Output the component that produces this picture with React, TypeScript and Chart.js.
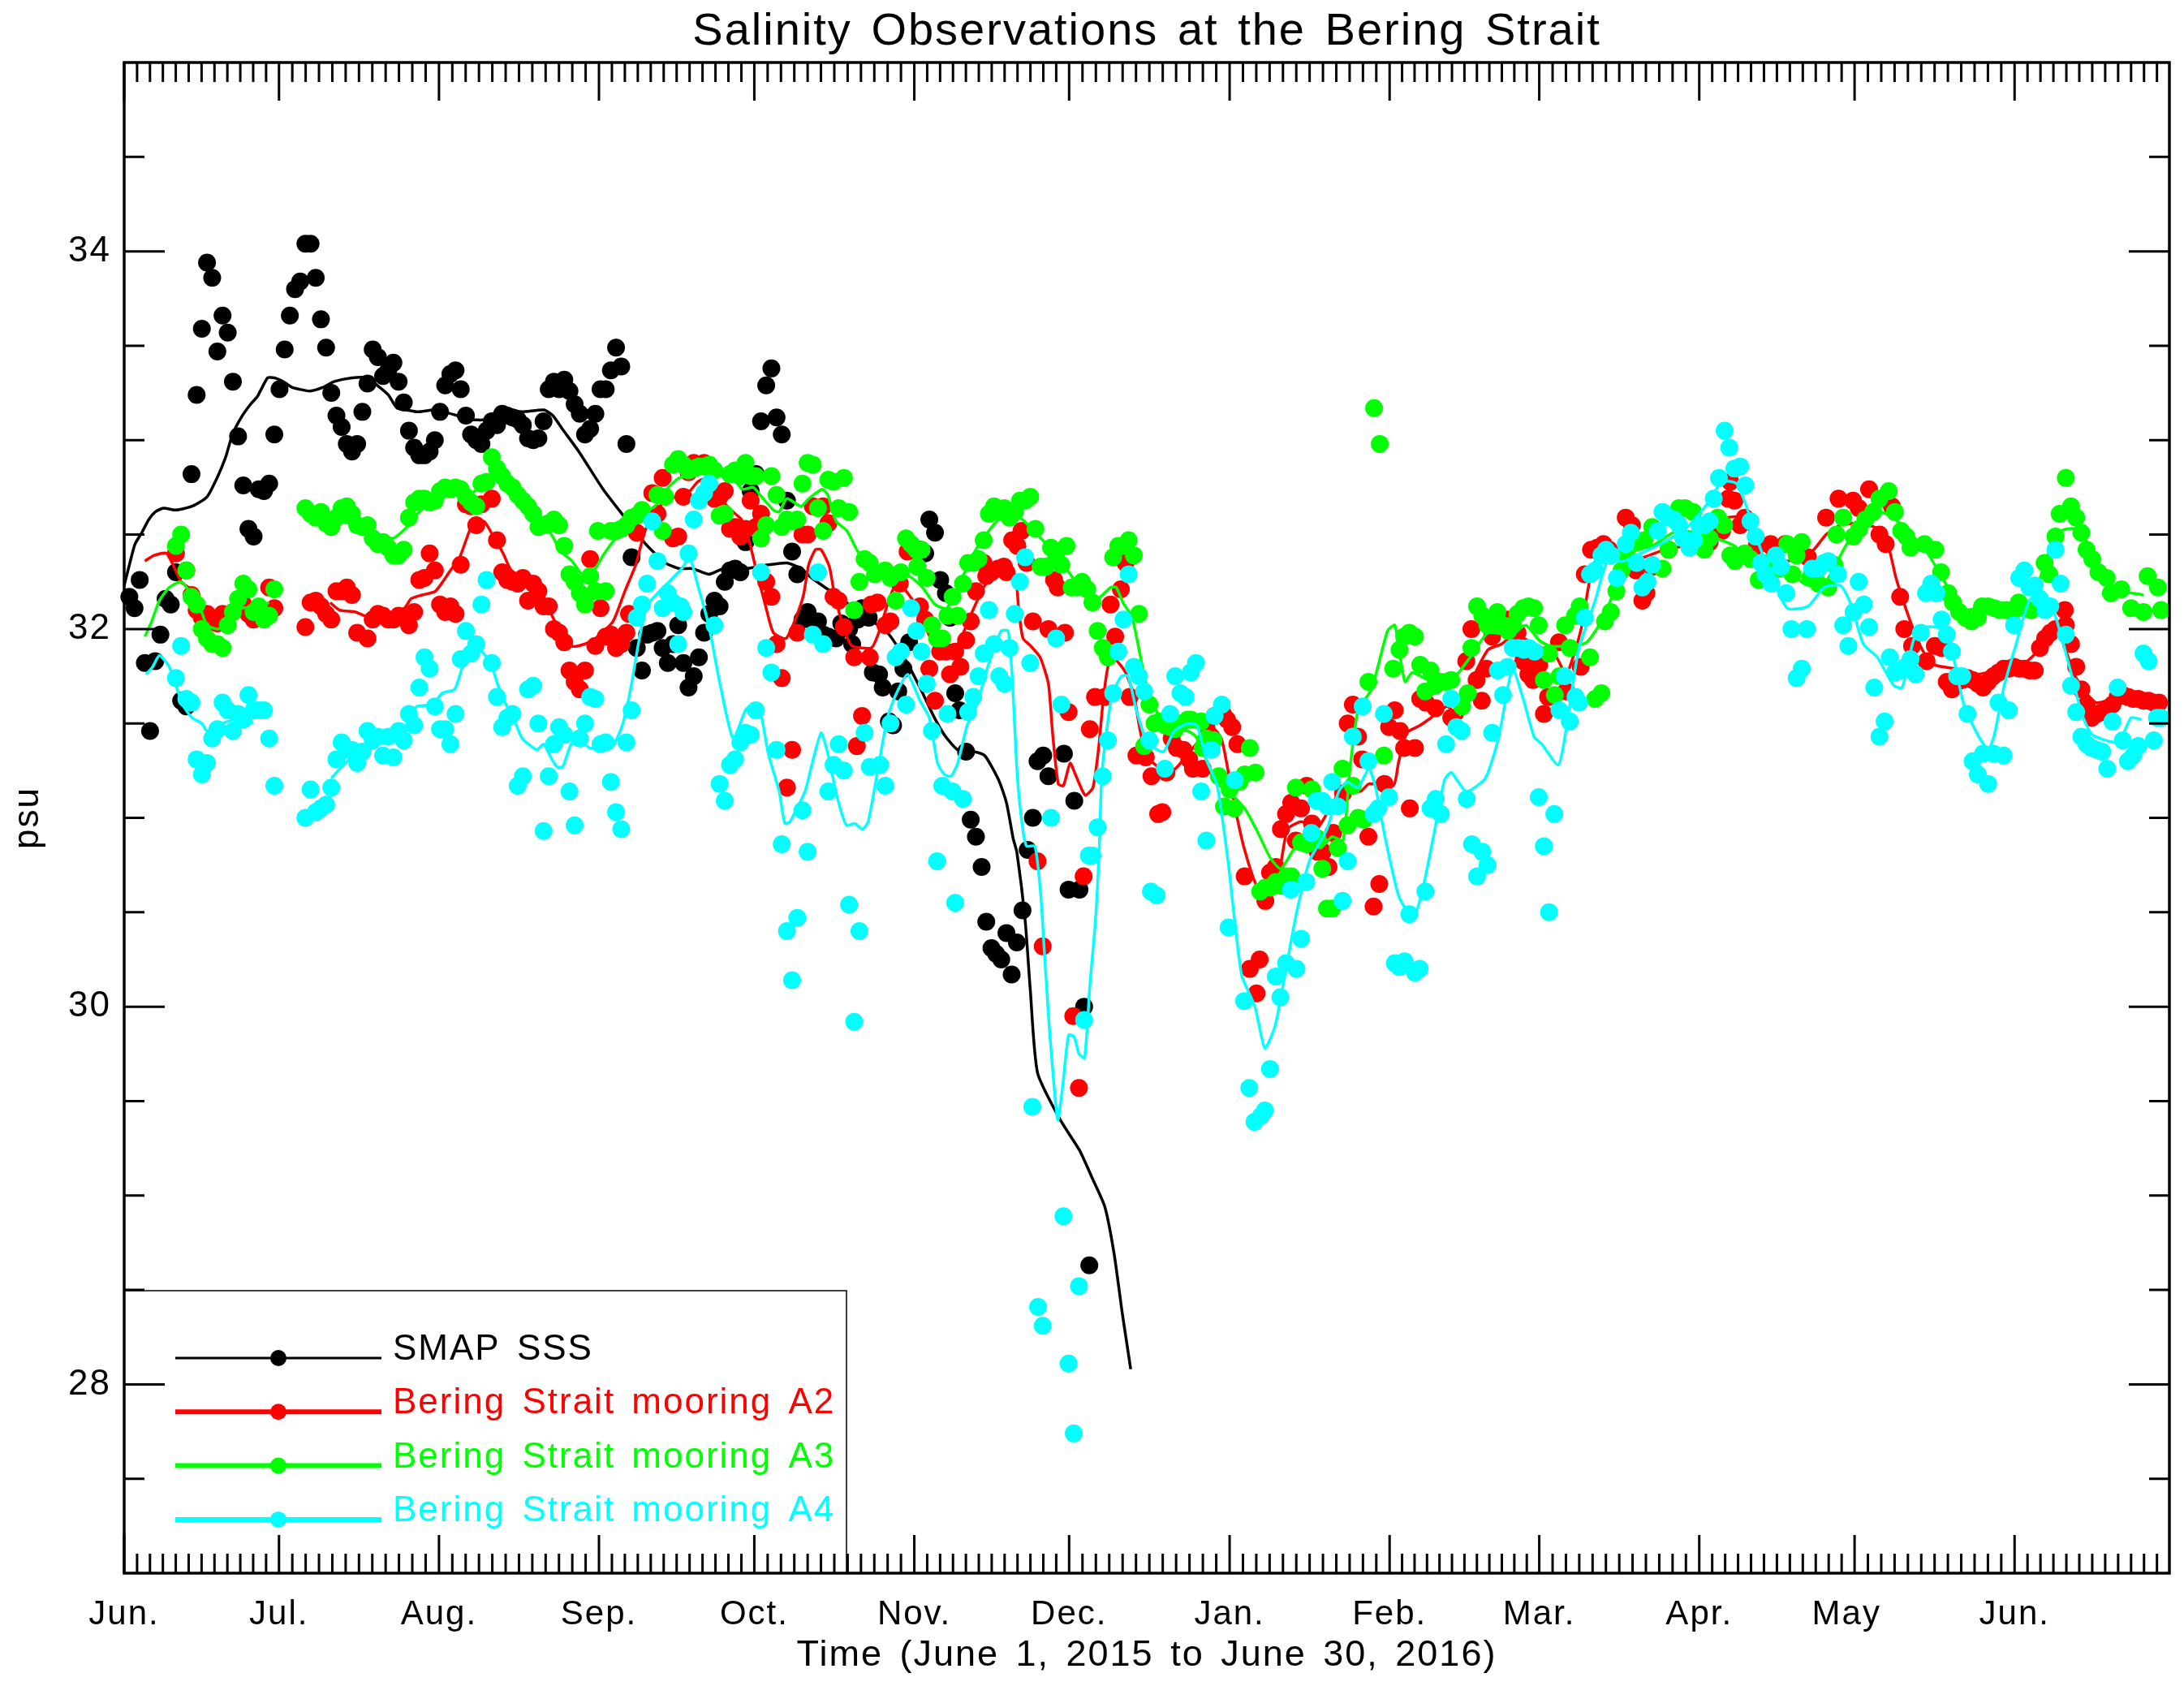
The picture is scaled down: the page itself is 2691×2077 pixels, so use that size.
import { useEffect, useRef } from "react"
import { Chart, registerables } from "chart.js"

Chart.register(...registerables)

const FONT = "Liberation Sans"

// x axis is in days, 0 = June 1 2015 at the left frame
const xMin = 0
const xMax = 395
const yMin = 27
const yMax = 35
const monthTicks = [0, 29.9, 60.8, 91.7, 121.7, 152.6, 182.5, 213.5, 244.4, 273.3, 304.2, 334.2, 365.1]
const monthLabels = ["Jun.", "Jul.", "Aug.", "Sep.", "Oct.", "Nov.", "Dec.", "Jan.", "Feb.", "Mar.", "Apr.", "May ", "Jun."]
const yMajorTicks = [28, 30, 32, 34]
const yMinorTicks = [27.5, 28.5, 29, 29.5, 30.5, 31, 31.5, 32.5, 33, 33.5, 34.5]

const legendLabels = ["SMAP SSS", "Bering Strait mooring A2", "Bering Strait mooring A3", "Bering Strait mooring A4"]
const seriesColors = ["#000000", "#ff0000", "#00ff00", "#00ffff"]

// daily observations [day, psu]
const smapDots = [
  [1,32.17],[2,32.11],[3,32.26],[4,31.82],[5,31.46],[6,31.83],[7,31.97],[8,32.16],[9,32.13],[10,32.30],
  [11,31.62],[12,31.59],[13,32.82],[14,33.24],[15,33.59],[16,33.94],[17,33.86],[18,33.47],[19,33.66],[20,33.57],
  [21,33.31],[22,33.02],[23,32.76],[24,32.53],[25,32.49],[26,32.74],[27,32.73],[28,32.77],[29,33.03],[30,33.27],
  [31,33.48],[32,33.66],[33,33.80],[34,33.84],[35,34.04],[36,34.04],[37,33.86],[38,33.64],[39,33.49],[40,33.25],
  [41,33.13],[42,33.07],[43,32.98],[44,32.94],[45,32.98],[46,33.15],[47,33.30],[48,33.48],[49,33.44],[50,33.34],
  [51,33.37],[52,33.41],[53,33.31],[54,33.20],[55,33.05],[56,32.96],[57,32.92],[58,32.92],[59,32.94],[60,33.00],
  [61,33.15],[62,33.29],[63,33.35],[64,33.37],[65,33.27],[66,33.13],[67,33.03],[68,33.00],[69,32.98],[70,33.05],
  [71,33.10],[72,33.08],[73,33.14],[74,33.13],[75,33.12],[76,33.11],[77,33.08],[78,33.01],[79,33.00],[80,33.01],
  [81,33.10],[82,33.27],[83,33.31],[84,33.27],[85,33.32],[86,33.26],[87,33.19],[88,33.14],[89,33.03],[90,33.06],
  [91,33.14],[92,33.27],[93,33.27],[94,33.37],[95,33.49],[96,33.39],[97,32.98],[98,32.38],[99,31.90],[100,31.78],
  [101,31.97],[102,31.98],[103,31.99],[104,31.90],[105,31.82],[106,31.92],[107,32.02],[108,31.82],[109,31.69],[110,31.75],
  [111,31.85],[112,31.98],[113,32.08],[114,32.15],[115,32.12],[116,32.25],[117,32.31],[118,32.32],[119,32.30],[120,32.46],
  [121,32.73],[122,32.82],[123,33.10],[124,33.29],[125,33.38],[126,33.12],[127,33.03],[128,32.68],[129,32.41],[130,32.29],
  [131,32.05],[132,32.09],[133,32.04],[134,32.04],[135,31.97],[136,31.96],[137.5,31.95],[138.5,32.03],[140,32.00],[140.6,31.92],
  [141.7,32.05],[142.5,32.11],[143.8,32.06],[144.6,31.77],[145.8,31.76],[146.5,31.69],[147.7,31.51],[148.5,31.49],[149.5,31.67],[150.5,31.79],
  [151.6,31.93],[153.7,32.42],[154.7,32.40],[155.5,32.58],[156.6,32.51],[157.6,32.26],[158.7,32.19],[159.5,32.06],[160.5,31.66],[161.3,31.57],
  [162.6,31.35],[163.5,30.99],[164.5,30.90],[165.6,30.74],[166.5,30.45],[167.5,30.31],[168.4,30.28],[169.4,30.25],[170.4,30.39],[171.4,30.17],
  [172.4,30.34],[173.5,30.51],[174.5,30.83],[175.5,31.00],[176.4,31.30],[177.5,31.33],[178.5,31.22],[181.5,31.34],[182.4,30.62],[183.5,31.09],
  [184.5,30.62],[185.4,30.00],[186.4,28.63],
]

const a2Dots = [
  [10,32.40],[12,32.31],[13,32.18],[14,32.10],[15,32.06],[16,32.08],[17,32.05],[18,32.03],[19,32.08],[20,32.07],
  [21,32.09],[22,32.11],[23,32.13],[24,32.08],[25,32.05],[26,32.08],[27,32.07],[28,32.22],[29,32.11],[35,32.01],
  [36,32.14],[37,32.15],[38,32.12],[39,32.08],[40,32.05],[41,32.20],[42,32.20],[43,32.22],[44,32.18],[45,31.98],
  [47,31.95],[48,32.05],[49,32.08],[50,32.07],[51,32.05],[52,32.05],[53,32.07],[54,32.06],[55,32.02],[56,32.09],
  [57,32.26],[58,32.27],[59,32.40],[60,32.31],[61,32.13],[62,32.09],[63,32.12],[64,32.08],[65,32.34],[66,32.66],
  [67,32.65],[68,32.55],[69,32.66],[71,32.69],[72,32.47],[73,32.30],[74,32.26],[75,32.25],[76,32.24],[77,32.27],
  [78,32.15],[79,32.24],[80,32.20],[81,32.12],[82,32.12],[83,32.00],[84,31.98],[85,31.93],[86,31.78],[87,31.72],
  [88,31.68],[89,31.78],[90,32.37],[91,31.91],[92,32.11],[93,31.96],[94,31.97],[95,31.90],[96,31.92],[97,31.98],
  [97.5,32.08],[99,32.51],[102,32.72],[103,32.61],[104,32.80],[106,32.48],[107,32.49],[108,32.70],[109,32.83],[110,32.88],
  [112,32.88],[114,32.69],[115,32.70],[116,32.73],[117,32.53],[118,32.54],[119,32.49],[120,32.53],[121,32.68],[122,32.54],
  [123,32.61],[124,32.25],[125,32.17],[126,31.92],[127,31.74],[128,31.16],[129,31.36],[130,31.98],[131,32.50],[132,32.50],
  [133,32.65],[135,32.65],[136,32.56],[137,32.17],[138,32.15],[139,32.01],[141,31.85],[141.5,31.38],[142.5,31.54],[144,31.85],
  [144.3,32.13],[145.5,32.14],[147,32.02],[148,32.04],[149.8,32.24],[151.3,32.41],[153.7,32.12],[154.7,32.05],[155.5,31.79],[156.6,31.62],
  [157.6,31.88],[158.7,31.88],[159.5,31.76],[160.5,31.88],[161.5,31.80],[162.6,31.94],[163.5,32.04],[164.5,32.20],[166,32.35],[166.5,32.28],
  [167.5,32.30],[168.8,32.32],[169.9,32.33],[170.4,32.30],[171.5,32.47],[172.5,32.44],[173.3,32.52],[174.3,32.35],[175.5,32.04],[176.4,30.77],
  [177.4,30.32],[178.5,32.00],[179.6,32.26],[180.3,32.22],[181.7,31.98],[182.4,31.56],[183.3,29.95],[184.4,29.57],[185.3,30.69],[186.5,31.47],
  [187.5,31.64],[189.4,31.64],[190.5,32.13],[191.4,31.96],[192.5,32.21],[193.4,32.35],[194.2,31.64],[195.5,31.33],[197.3,31.32],[198.4,31.22],
  [199.7,31.02],[200.5,31.03],[201.3,31.24],[202.3,31.42],[203.3,31.37],[204.6,31.36],[205.7,31.31],[206.4,31.26],[208.3,31.26],[209,31.48],
  [210.6,31.54],[212.2,31.55],[213,31.52],[214,31.48],[215,31.39],[216.4,30.69],[217.4,30.20],[218.7,30.07],[219.3,30.25],[220.4,30.56],
  [221.3,30.71],[222.4,30.74],[223.4,30.94],[224.4,31.02],[225.4,31.08],[226.3,30.88],[227.3,31.05],[228.4,31.17],[229.4,30.97],[230.5,30.82],
  [231.5,30.82],[232.6,30.74],[233.5,30.92],[235.4,31.13],[236.3,31.50],[237.3,31.60],[238.3,31.43],[239.1,31.31],[240.3,30.90],[241.3,30.53],
  [242.4,30.65],[243.4,31.18],[244.3,31.48],[245.4,31.57],[246.4,31.46],[247.2,31.37],[248.3,31.05],[249.3,31.37],[250.3,31.63],[251.4,31.61],
  [253.3,31.58],[256.3,31.53],[259.2,31.83],[260.2,32.00],[261.2,31.73],[262.2,31.62],[263.1,31.79],[264.2,31.96],[267.2,32.05],[269.1,31.98],
  [270.2,31.83],[271.2,31.76],[272.1,31.73],[273.3,31.81],[274.2,31.55],[275,31.64],[277.1,31.93],[278.5,31.67],[281.3,31.80],[282.1,32.29],
  [283.3,32.42],[284.5,32.43],[285.7,32.45],[286.8,32.42],[290,32.59],[291.2,32.55],[292,32.31],[293.2,32.15],[294,32.19],[295.1,32.33],
  [298.3,32.42],[306.2,32.46],[308.6,32.52],[309.8,32.69],[310.2,32.78],[311,32.68],[312.1,32.55],[313,32.59],[315.3,32.44],[318,32.45],
  [320.8,32.45],[325.2,32.38],[328.7,32.59],[331.1,32.69],[333.9,32.68],[335,32.64],[337,32.74],[339,32.50],[340.2,32.45],[341.4,32.65],
  [343,32.17],[343.8,32.00],[345.3,31.91],[348.1,31.83],[349.7,31.91],[351,31.90],[352,31.72],[353,31.68],[354,31.72],[355,31.73],
  [356,31.74],[357,31.73],[358,31.71],[359,31.69],[360,31.72],[361,31.75],[362,31.77],[363,31.79],[364,31.79],[365,31.80],
  [366,31.79],[367,31.79],[368,31.78],[369,31.78],[370,31.90],[371,31.95],[372,31.98],[373,32.00],[374.8,32.10],[375,32.02],
  [376,31.92],[377,31.80],[378,31.68],[379,31.60],[380,31.53],[381,31.55],[382,31.56],[383,31.58],[384,31.60],[385,31.64],
  [386,31.65],[387,31.64],[388,31.63],[389,31.63],[390,31.62],[391,31.62],[392,31.61],[393,31.61],
]

const a3Dots = [
  [10,32.44],[11,32.50],[12,32.31],[13,32.17],[14,32.13],[15,32.00],[16,31.95],[17,31.92],[18,31.92],[19,31.90],
  [20,32.02],[21,32.09],[22,32.16],[23,32.24],[24,32.21],[25,32.09],[26,32.12],[27,32.05],[28,32.07],[29,32.21],
  [35,32.64],[36,32.61],[37,32.59],[38,32.62],[39,32.56],[40,32.54],[41,32.59],[42,32.64],[43,32.65],[44,32.61],
  [45,32.55],[46,32.54],[47,32.55],[48,32.48],[49,32.45],[50,32.46],[51,32.43],[52,32.39],[53,32.39],[54,32.42],
  [55,32.59],[56,32.67],[57,32.69],[58,32.69],[59,32.67],[60,32.68],[61,32.73],[62,32.75],[63,32.74],[64,32.75],
  [65,32.74],[66,32.70],[67,32.67],[68,32.65],[69,32.77],[70,32.78],[71,32.91],[72,32.85],[73,32.81],[74,32.77],
  [75,32.75],[76,32.71],[77,32.68],[78,32.65],[79,32.61],[80,32.54],[81,32.55],[82,32.56],[83,32.58],[84,32.55],
  [85,32.44],[86,32.29],[87,32.25],[88,32.19],[89,32.13],[90,32.28],[91,32.20],[91.5,32.52],[93,32.20],[94,32.52],
  [95,32.52],[96,32.53],[97,32.55],[98,32.59],[99,32.60],[100,32.63],[103,32.71],[104,32.52],[104.5,32.70],[106,32.87],
  [107,32.90],[108,32.87],[109,32.84],[110,32.85],[111,32.86],[112,32.86],[113,32.87],[114,32.84],[115,32.60],[116,32.61],
  [117,32.82],[118,32.84],[119,32.81],[120,32.88],[121,32.81],[122,32.81],[123,32.48],[124,32.55],[125,32.81],[126,32.71],
  [127,32.54],[128,32.58],[129,32.57],[130,32.58],[131,32.77],[132,32.88],[133,32.87],[134,32.64],[135,32.52],[136,32.79],
  [137,32.78],[138,32.64],[139,32.80],[140,32.62],[141,32.10],[142,32.25],[143,32.37],[144,32.35],[145,32.29],[147,32.31],
  [148,32.27],[149,32.15],[150,32.30],[151,32.48],[152,32.45],[153,32.42],[153.2,32.33],[154,32.42],[155,32.27],[156,32.02],
  [157,31.95],[158,31.95],[159,32.07],[160,32.17],[161,32.07],[162,32.24],[163,32.35],[164,32.35],[165,32.37],[166,32.47],
  [167,32.61],[168,32.65],[169,32.62],[170,32.64],[171,32.59],[172,32.62],[173,32.68],[174,32.68],[175,32.70],[176,32.53],
  [177,32.33],[178,32.33],[179,32.43],[180,32.38],[181,32.34],[182,32.44],[183,32.22],[184,32.22],[185,32.25],[186,32.21],
  [187,32.14],[188,31.99],[189,31.90],[190,31.85],[191,32.38],[192,32.44],[193,32.44],[194,32.47],[195,32.39],[196,32.08],
  [197,31.38],[198,31.60],[199,31.50],[200,31.51],[201,31.49],[202,31.48],[203,31.47],[204,31.50],[205.4,31.52],[206,31.52],
  [208,31.51],[208.3,31.37],[209,31.42],[210.4,31.41],[211.4,31.22],[212.4,31.06],[213.5,31.15],[214.4,31.05],[215.4,31.19],[216.4,31.23],
  [217.4,31.37],[218.5,31.24],[219.4,30.61],[220.4,30.63],[221.3,30.63],[222.4,30.66],[223.4,30.64],[224.5,30.69],[225.4,30.69],[226.3,31.16],
  [227.3,30.87],[228.4,30.86],[229.4,31.15],[230.5,30.89],[231.4,30.73],[232.3,30.52],[233.3,30.52],[234.4,30.84],[235.3,31.26],[236.3,30.96],
  [237.3,31.17],[238.3,31.00],[239.4,30.99],[240.3,31.72],[241.4,33.17],[242.5,32.98],[243.3,31.33],[245.1,31.79],[246.3,31.89],[247.2,31.96],
  [248.2,31.98],[249.3,31.96],[250.3,31.81],[251.3,31.67],[252.3,31.78],[253.2,31.70],[254.2,31.72],[255.3,31.72],[256.3,31.73],[258.4,31.59],
  [259.5,31.66],[260.2,31.90],[261.3,32.12],[262.3,32.07],[263.3,32.02],[264.2,32.02],[265.2,32.09],[266.3,32.02],[267.3,31.99],[268.2,32.02],
  [269.1,32.08],[270.2,32.11],[271.2,32.12],[272.3,32.11],[273.2,32.02],[274.2,31.73],[275.2,31.87],[276.3,31.65],[277.2,31.75],[278.3,32.02],
  [279.2,31.90],[280.2,32.07],[281.1,32.12],[283.1,31.85],[284.1,31.63],[285.3,31.66],[286,32.04],[287.1,32.09],[288.2,32.20],[289.2,32.31],
  [290,32.39],[292.4,32.46],[293.6,32.47],[295.1,32.54],[297.1,32.32],[298.3,32.42],[300.3,32.64],[301.5,32.64],[303,32.62],[305.2,32.42],
  [306.2,32.48],[307.8,32.59],[309,32.55],[310.2,32.39],[311.1,32.36],[313,32.40],[314.1,32.37],[315.7,32.26],[317.3,32.35],[319.6,32.32],
  [321.2,32.45],[322.2,32.29],[323,32.39],[324,32.46],[325.6,32.27],[327.2,32.24],[329.1,32.22],[330.3,32.34],[330.7,32.50],[332,32.59],
  [334,32.49],[335.1,32.53],[336.3,32.58],[337.8,32.62],[339,32.69],[340.8,32.73],[342,32.62],[343.2,32.52],[344.2,32.49],[345,32.43],
  [347.7,32.45],[349.8,32.42],[350.9,32.30],[352.3,32.19],[353.2,32.14],[354.4,32.09],[355.6,32.06],[356.8,32.04],[358,32.06],[358.8,32.12],
  [360,32.12],[361.2,32.11],[362.3,32.10],[363.5,32.10],[364.7,32.09],[365.9,32.14],[367.1,32.11],[368.3,32.10],[370.9,32.35],[371.8,32.29],
  [373,32.49],[373.8,32.61],[375,32.80],[376,32.65],[377,32.59],[378,32.51],[379,32.42],[380.1,32.37],[381.3,32.30],[382.9,32.27],
  [383.7,32.19],[385.7,32.21],[387.6,32.11],[390,32.09],[390.8,32.28],[392.8,32.22],[393.4,32.10],
]

const a4Dots = [
  [10,31.74],[11,31.91],[12,31.63],[13,31.61],[14,31.31],[15,31.23],[16,31.29],[17,31.42],[18,31.47],[19,31.61],
  [20,31.57],[21,31.46],[22,31.55],[23,31.52],[24,31.65],[25,31.57],[26,31.57],[27,31.57],[28,31.42],[29,31.17],
  [35,31.00],[36,31.15],[37,31.03],[38,31.05],[39,31.07],[40,31.16],[41,31.31],[42,31.40],[43,31.36],[44,31.36],
  [45,31.29],[46,31.35],[47,31.46],[48,31.41],[49,31.43],[50,31.33],[51,31.43],[52,31.32],[53,31.46],[54,31.41],
  [55,31.55],[56,31.49],[57,31.69],[58,31.85],[59,31.79],[60,31.59],[61,31.47],[62,31.47],[63,31.39],[64,31.55],
  [65,31.84],[66,31.99],[67,31.87],[68,31.92],[69,32.13],[70,32.26],[71,31.82],[72,31.64],[73,31.48],[74,31.53],
  [75,31.55],[76,31.17],[77,31.22],[78,31.68],[79,31.70],[80,31.50],[81,30.93],[82,31.22],[83,31.39],[84,31.48],
  [85,31.44],[86,31.14],[87,30.96],[88,31.42],[89,31.50],[90,31.64],[91,31.63],[92,31.39],[93,31.40],[94,31.19],
  [95,31.03],[96,30.94],[97,31.40],[98,31.57],[99,32.06],[100,32.13],[101,32.24],[102,32.57],[103,32.36],[104,32.11],
  [105,32.19],[106,32.14],[107,31.92],[107.5,32.12],[108,32.09],[109,32.40],[110,32.58],[111,32.68],[112,32.72],[113,32.77],
  [114,32.02],[115,31.18],[116,31.09],[117,31.28],[118,31.31],[119,31.40],[120,31.45],[121,31.44],[122,31.57],[123,32.30],
  [124,31.90],[125,31.77],[126,31.36],[127,30.86],[128,30.40],[129,30.14],[130,30.47],[131,31.04],[132,30.82],[133,31.97],
  [134,32.30],[135,31.92],[136,31.14],[137,31.28],[138,31.39],[139,31.25],[140,30.54],[141,29.92],[142,30.40],[143,31.45],
  [144,31.27],[146,31.28],[147,31.17],[148,31.50],[149,31.85],[150,31.88],[151,31.60],[152,32.11],[153,31.99],[154,31.88],
  [155,31.71],[156,31.46],[157,30.77],[158,31.17],[159,31.55],[160,31.14],[160.5,30.55],[162,31.10],[163,31.56],[164,31.64],
  [165,31.75],[166,31.87],[167,32.10],[168,31.92],[169,31.75],[170,31.71],[171,31.90],[172,32.08],[173,32.25],[174,32.38],
  [175,31.82],[175.4,29.47],[176.5,28.41],[177.4,28.31],[179,31.00],[180,31.95],[181,31.60],[181.4,28.89],[182.4,28.11],[183.4,27.74],
  [184.4,28.52],[185.4,29.93],[186.3,30.80],[187,30.80],[188,30.95],[189,31.22],[190,31.41],[191,31.66],[192,31.88],[193,32.05],
  [194,32.29],[195,31.80],[196,31.75],[197,31.67],[198,31.41],[198.3,30.61],[199.4,30.59],[201,31.26],[202,31.55],[203,31.75],
  [204,31.66],[205,31.64],[206,31.77],[207,31.82],[208,31.14],[209,30.88],[210,31.36],[210.6,31.54],[212,31.60],[213.3,30.42],
  [214.5,31.20],[216.3,30.03],[217.3,29.57],[218.3,29.39],[219.5,29.42],[220.3,29.45],[221.3,29.67],[222.4,30.16],[223.3,30.05],[224.4,30.23],
  [225.3,30.62],[226.4,30.20],[227.3,30.36],[228.3,30.66],[229.3,30.92],[230.3,31.09],[231.4,31.09],[232.4,31.06],[233.3,31.19],[234.4,31.06],
  [235.3,30.56],[236.3,30.77],[237.3,31.43],[239.2,31.59],[240.3,31.30],[241.3,31.02],[242.2,31.05],[243.3,31.55],[244.3,31.11],[245.4,30.23],
  [246.3,30.21],[247.3,30.24],[248.2,30.49],[249.3,30.18],[250.2,30.20],[251.3,30.61],[252.3,31.05],[253.3,31.10],[254.3,31.02],[255.3,31.39],
  [256.3,31.63],[257.3,31.48],[258.3,31.46],[259.3,31.10],[260.3,30.86],[261.3,30.69],[262.3,30.82],[263.3,30.75],[264.2,31.45],[265.3,31.78],
  [266.3,31.65],[267.2,31.80],[268.2,31.90],[269.3,31.90],[270.3,31.89],[271.3,31.90],[272.4,31.88],[273.2,31.11],[274.2,30.85],[275.2,30.50],
  [276.2,31.02],[277.2,31.57],[278.2,31.75],[279.2,31.51],[280.3,31.64],[281,31.61],[282.1,32.06],[283.1,32.29],[284.1,32.31],[285.3,32.39],
  [286.2,32.42],[287.2,32.39],[288.3,32.27],[290,32.45],[291,32.51],[292.1,32.35],[293.2,32.22],[294.2,32.25],[295.1,32.34],[296.2,32.52],
  [297.1,32.62],[298.3,32.59],[299.3,32.58],[300.3,32.55],[301.1,32.48],[302.3,32.43],[303.2,32.47],[304.2,32.55],[305.2,32.55],[306.2,32.57],
  [307,32.69],[308,32.80],[309.1,33.05],[310,32.96],[311,32.85],[312.1,32.86],[313.1,32.76],[314.1,32.57],[315.1,32.49],[316.1,32.35],
  [317,32.29],[318.1,32.24],[319,32.39],[320,32.33],[321,32.19],[322,32.00],[323,31.74],[324,31.79],[325,32.00],[326,32.32],
  [327.2,32.32],[328.3,32.35],[329.1,32.36],[331,32.29],[332,32.02],[333,31.91],[334,32.09],[335,32.25],[336,32.13],[337,32.01],
  [338,31.69],[339,31.43],[340,31.51],[341,31.85],[342,31.77],[343,31.78],[344,31.80],[345,31.84],[346,31.76],[347,31.98],
  [348,32.19],[349,32.24],[350,32.19],[351,32.05],[352,31.97],[353,31.88],[354,31.75],[355,31.75],[356,31.55],[357,31.30],
  [358,31.23],[359,31.34],[360,31.18],[361,31.34],[362,31.61],[363,31.33],[364,31.57],[365,32.02],[366,32.27],[367,32.31],
  [368,32.22],[369,32.23],[370,32.16],[371,32.10],[372,32.12],[373,32.42],[374,32.24],[375,31.97],[376,31.70],[377,31.56],
  [378,31.43],[379,31.39],[380,31.37],[381,31.36],[382,31.35],[383,31.26],[384,31.51],[385,31.69],[386,31.41],[387,31.30],
  [388,31.33],[389,31.38],[390,31.87],[391,31.83],[392,31.41],[392.6,31.53],[393.4,31.53],
]

// smoothed curves, a null row breaks the line
const smapLine = [
  [0,32.23],[1.1,32.35],[2.1,32.45],[3.4,32.51],[4.75,32.58],[6,32.62],[7.6,32.64],[10,32.63],[13.1,32.65],[16,32.70],
  [18.1,32.81],[19.6,32.91],[20.9,33.03],[22.6,33.12],[24.4,33.19],[25.7,33.23],[27.7,33.33],[29,33.33],[30.7,33.31],[32.4,33.28],
  [33.8,33.27],[35.9,33.26],[38.4,33.28],[40.5,33.31],[44,33.33],[46.8,33.33],[48.9,33.29],[51,33.24],[52.7,33.17],[54.5,33.16],
  [56.7,33.15],[59.7,33.16],[61.8,33.15],[64.3,33.13],[66.7,33.11],[69.9,33.11],[72.7,33.17],[74.8,33.16],[76.9,33.15],[81.1,33.16],
  [82.8,33.13],[84.6,33.06],[87.8,32.94],[92.5,32.74],[96.7,32.59],[100.4,32.46],[102.5,32.40],[104.5,32.35],[107.2,32.32],[109.8,32.32],
  [112.9,32.29],[116.6,32.33],[120.2,32.32],[124.4,32.34],[128,32.35],[130.7,32.32],[132.8,32.27],[135.9,32.21],[147.4,31.98],[150.6,31.85],
  [153.7,31.69],[156.3,31.54],[158.4,31.44],[161,31.36],[164.1,31.35],[166.2,31.33],[168.9,31.20],[170.4,31.08],[171.7,30.89],[172.4,30.82],
  [174,30.46],[175,30.09],[176.4,29.65],[180.8,29.40],[184.5,29.24],[187,29.09],[189.4,28.94],[191.2,28.69],[192.8,28.37],[194.4,28.08],
]

const a2Line = [
  [4,32.36],[5.8,32.39],[8.2,32.40],[11,32.25],[12.85,32.21],[14.2,32.14],[15.5,32.08],[16.8,32.00],[18.1,32.00],[19.6,32.02],
  [22.5,32.11],[25,32.09],[27.2,32.11],[29,32.12],[34,null],[39.8,32.14],[41.6,32.10],[44.7,32.09],[46.5,32.07],[50,32.07],
  [54.1,32.11],[55.4,32.16],[57.5,32.18],[60.1,32.20],[63,32.31],[64.8,32.38],[66.7,32.52],[67.7,32.56],[69.5,32.57],[71.1,32.50],
  [73.2,32.40],[74.8,32.31],[80,32.22],[83,32.05],[86.5,31.91],[88.9,31.92],[91,31.95],[94.4,32.04],[96.7,32.20],[98.8,32.34],
  [100.6,32.52],[102.5,32.61],[104.5,32.68],[106.6,32.70],[109.2,32.73],[110.8,32.78],[112.9,32.80],[115.5,32.68],[117.6,32.62],[119.2,32.58],
  [120.5,32.49],[122,32.32],[123.9,32.12],[125.4,31.98],[127.8,31.95],[129.6,32.05],[131.2,32.18],[132.2,32.34],[133.5,32.42],[134.6,32.42],
  [136.2,32.33],[137.2,32.18],[139.3,31.98],[140.6,31.91],[144.3,31.90],[145.6,31.97],[147.2,32.11],[148.7,32.22],[150.3,32.22],[152.1,32.16],
  [153.7,32.08],[155.8,31.95],[158.4,31.88],[161,31.92],[163.6,32.08],[166.2,32.23],[169.4,32.32],[172,32.29],[172.8,32.09],[173.6,31.95],
  [175.1,31.91],[176.9,31.85],[178.5,31.71],[179.3,31.45],[180.4,31.18],[181.4,31.17],[182.7,31.29],[183.7,31.23],[185.6,31.12],[187.1,31.16],
  [188.2,31.37],[189,31.60],[190,31.80],[191.3,31.84],[193.4,31.77],[195,31.65],[196.3,31.45],[197.8,31.32],[200.7,31.25],[203,31.26],
  [207,31.39],[210,31.48],[211.9,31.42],[213.2,31.25],[214.8,31.02],[216.4,30.83],[219,30.63],[222.6,30.68],[223.4,30.76],[224.7,30.94],
  [227.3,30.98],[230.5,30.95],[231.8,31.00],[234.1,31.11],[235.2,31.14],[238.8,31.14],[240.4,31.18],[245.1,31.17],[246.1,31.29],[247.7,31.45],
  [250.3,31.49],[252.4,31.53],[255.5,31.59],[258.2,31.53],[260.2,31.72],[263.4,31.89],[266,31.92],[268.6,31.97],[272.3,31.92],[276.4,31.86],
  [278.5,31.76],[281.3,31.99],[283.3,32.29],[286,32.46],[290.8,32.36],[297.5,32.42],[303,32.45],[307.8,32.53],[309.8,32.59],[312.5,32.59],
  [314.9,32.47],[318,32.39],[321.2,32.36],[325.6,32.40],[328.7,32.50],[331.5,32.55],[335.5,32.56],[339.4,32.52],[341,32.41],[342.2,32.27],
  [344.2,32.10],[346.1,31.96],[347.7,31.87],[349.7,31.81],[353.6,31.79],[357.6,31.76],[363.1,31.79],[367,31.82],[369.8,31.89],[372.6,32.01],
  [374.2,31.95],[376.6,31.76],[379,31.66],[380.9,31.61],[384.5,31.63],[387.6,31.64],[394.7,31.61],
]

const a3Line = [
  [4,31.96],[5.3,32.04],[6.8,32.15],[8.7,32.22],[11,32.25],[12.85,32.19],[14.7,32.11],[16,32.02],[18.1,32.00],[19.9,32.03],
  [22.5,32.11],[25.1,32.11],[28,32.14],[34,null],[40,32.58],[45,32.55],[51.8,32.48],[55,32.55],[57.3,32.63],[62,32.72],
  [66,32.70],[70,32.78],[73.2,32.85],[76.3,32.72],[80,32.59],[82.3,32.51],[84.4,32.41],[86.5,32.36],[88.4,32.29],[90.7,32.31],
  [92.5,32.39],[94.6,32.47],[96.2,32.51],[99.3,32.60],[102.5,32.65],[105.1,32.75],[107.2,32.80],[109.8,32.82],[113.4,32.84],[116,32.80],
  [118.1,32.78],[119.4,32.74],[121.5,32.75],[123.1,32.70],[125.4,32.63],[126.5,32.62],[128,32.69],[130.7,32.65],[132.2,32.69],[134.8,32.74],
  [135.9,32.71],[137.5,32.57],[139.6,32.52],[141.7,32.41],[144.8,32.31],[148.5,32.29],[151.6,32.28],[154.2,32.22],[156.6,32.13],[158.9,32.11],
  [162,32.28],[164.7,32.43],[168.9,32.58],[172.5,32.60],[176.7,32.49],[179.8,32.40],[183,32.28],[185.6,32.19],[188,32.16],[190.5,32.22],
  [191.6,32.22],[192.9,32.14],[194.7,32.06],[197.6,31.68],[199.7,31.55],[202.3,31.47],[205.4,31.46],[207,31.43],[208.5,31.34],[211.1,31.18],
  [213.2,31.14],[216.4,31.05],[219,30.92],[221.3,30.79],[223.4,30.73],[225.8,30.83],[227.9,30.88],[231,30.84],[233.3,30.90],[235.4,30.88],
  [236.7,31.25],[238.3,31.57],[240.9,31.68],[244,31.99],[245.4,32.02],[246.4,31.86],[247.4,31.72],[248.8,31.77],[253.5,31.71],[257.1,31.75],
  [260.2,31.86],[263.4,31.98],[267.6,31.97],[270.7,32.02],[273.3,31.94],[275.4,31.91],[279.3,31.91],[282.5,31.93],[285.7,32.06],[288.8,32.27],
  [292,32.42],[295.1,32.44],[299.9,32.52],[305.4,32.50],[311,32.44],[315.7,32.33],[320.4,32.35],[324.4,32.24],[328.3,32.24],[332.7,32.45],
  [336.3,32.56],[339.4,32.62],[343.4,32.55],[348.1,32.41],[352,32.23],[355.2,32.10],[359.2,32.12],[364.7,32.10],[367.9,32.10],[369.8,32.25],
  [371.8,32.41],[374.2,32.52],[376.6,32.53],[379.7,32.44],[383.7,32.22],[390,32.18],
]

const a4Line = [
  [4.2,31.76],[5.5,31.80],[6.8,31.86],[8.7,31.80],[10,31.70],[11.5,31.59],[13.1,31.53],[15,31.50],[16,31.46],[18,31.49],
  [21,31.52],[23,31.54],[24.9,31.50],[32,null],[40,31.21],[42.4,31.28],[46,31.37],[50,31.42],[54.6,31.49],[56.5,31.59],
  [59.6,31.60],[61.4,31.66],[63.8,31.68],[65.1,31.78],[65.9,31.85],[67.7,31.91],[70.6,31.83],[72.1,31.71],[73.2,31.63],[75.3,31.52],
  [76.9,31.42],[79.7,31.36],[81,31.39],[82.6,31.31],[83.6,31.27],[84.7,31.27],[86.3,31.39],[87.8,31.42],[89.9,31.37],[94.1,31.37],
  [96.2,31.49],[97.8,31.68],[99.3,31.92],[100.9,32.12],[102.7,32.18],[105.6,32.26],[107.7,32.32],[109.2,32.38],[110.8,32.23],[112.9,32.02],
  [115,31.72],[117.6,31.42],[120,31.57],[121.3,31.60],[122.8,31.57],[124.4,31.34],[126.5,31.14],[127.6,30.97],[128.6,30.98],[131.5,31.14],
  [132.8,31.28],[134.6,31.45],[135.9,31.34],[137.7,31.11],[139.5,30.96],[141.1,30.97],[142.6,30.94],[143.7,30.98],[145.6,31.26],[147.4,31.53],
  [149,31.65],[151.3,31.76],[153.7,31.62],[155.5,31.53],[157.1,31.29],[158.4,31.23],[159.7,31.22],[161,31.29],[162.8,31.49],[164.7,31.60],
  [166.8,31.80],[169.4,31.99],[170.7,31.99],[171.5,31.75],[172.5,31.22],[173.6,30.93],[174.3,30.85],[175.9,30.85],[177,30.60],[177.7,30.30],
  [178.7,29.88],[180.3,29.40],[181.3,29.59],[182.4,29.85],[183.5,29.84],[184.4,29.75],[185.5,29.73],[186.5,30.11],[187.6,30.46],[188.3,30.82],
  [188.8,31.22],[189.7,31.45],[190.8,31.65],[192.6,31.75],[193.9,31.75],[195.5,31.57],[197.6,31.40],[200.7,31.35],[202.8,31.46],[205.4,31.50],
  [207.2,31.49],[209,31.31],[211.1,31.17],[213.2,30.77],[215.8,30.17],[218.4,30.00],[220.3,29.78],[222.3,29.90],[224.2,30.17],[226.3,30.48],
  [228.9,30.77],[232.3,30.94],[234.6,31.14],[236.2,31.19],[238.3,31.16],[240.4,31.26],[241.7,31.16],[243.5,30.90],[246.1,30.59],[248.2,30.49],
  [249.5,30.50],[251.1,30.66],[253.5,30.99],[255,31.20],[256.3,31.24],[259.2,31.14],[262.9,31.21],[265.5,31.43],[268.1,31.79],[270.2,31.63],
  [272.3,31.43],[273.8,31.39],[277,31.28],[278.5,31.47],[280.9,31.89],[284.1,32.15],[286.5,32.36],[289.6,32.36],[292.8,32.40],[296.7,32.45],
  [301.5,32.53],[305.4,32.65],[308.6,32.78],[311.4,32.77],[313.3,32.65],[315.7,32.45],[318,32.29],[321.2,32.11],[325.2,32.12],[328.3,32.22],
  [331.5,32.23],[333.5,32.13],[335.9,31.92],[338.6,31.85],[341.8,31.70],[343.4,31.69],[345.7,31.95],[348.1,32.01],[351.3,32.00],[352.9,31.90],
  [355.2,31.61],[357.6,31.46],[360,31.36],[361.2,31.44],[363.1,31.70],[365.5,31.93],[367.9,32.15],[370.2,32.19],[372.6,32.10],[375.8,31.79],
  [378.1,31.55],[380.1,31.44],[384.5,31.40],[386,31.44],[387.6,31.53],[389.6,31.52],
]

const toPoints = (rows: (number | null)[][]) => rows.map(([x, y]) => ({ x, y }))

// frame, inward ticks on all four sides, and the boxed legend
const framePlugin = {
  id: "frame",
  beforeDraw(chart: any) {
    const { ctx } = chart
    ctx.letterSpacing = "2px"
    ctx.wordSpacing = "6px"
  },
  afterDatasetsDraw(chart: any) {
    const { ctx, chartArea, scales } = chart
    const { left, right, top, bottom } = chartArea
    ctx.save()
    ctx.strokeStyle = "#000"
    ctx.lineWidth = 3
    ctx.beginPath()
    monthTicks.forEach((m, i) => {
      const next = i < monthTicks.length - 1 ? monthTicks[i + 1] : m + 30
      const px = scales.x.getPixelForValue(m)
      ctx.moveTo(px, top); ctx.lineTo(px, top + 47)
      ctx.moveTo(px, bottom); ctx.lineTo(px, bottom - 47)
      for (let k = 1; k < 12; k++) {
        const v = m + ((next - m) * k) / 12
        if (v >= xMax) break
        const mx = scales.x.getPixelForValue(v)
        ctx.moveTo(mx, top); ctx.lineTo(mx, top + 24)
        ctx.moveTo(mx, bottom); ctx.lineTo(mx, bottom - 24)
      }
    })
    yMajorTicks.forEach((v) => {
      const py = scales.y.getPixelForValue(v)
      ctx.moveTo(left, py); ctx.lineTo(left + 50, py)
      ctx.moveTo(right, py); ctx.lineTo(right - 50, py)
    })
    yMinorTicks.forEach((v) => {
      const py = scales.y.getPixelForValue(v)
      ctx.moveTo(left, py); ctx.lineTo(left + 25, py)
      ctx.moveTo(right, py); ctx.lineTo(right - 25, py)
    })
    ctx.stroke()
    ctx.lineWidth = 3.5
    ctx.strokeRect(left, top, right - left, bottom - top)

    // legend box
    ctx.lineWidth = 1.5
    ctx.beginPath()
    ctx.moveTo(left, 1590); ctx.lineTo(1043, 1590); ctx.lineTo(1043, bottom)
    ctx.stroke()
    ctx.font = `44px "${FONT}"`
    ctx.textBaseline = "alphabetic"
    ctx.textAlign = "left"
    legendLabels.forEach((label, i) => {
      const y = 1673 + i * 66.3
      ctx.strokeStyle = seriesColors[i]
      ctx.fillStyle = seriesColors[i]
      ctx.lineWidth = i === 0 ? 3 : 6
      ctx.beginPath(); ctx.moveTo(216, y); ctx.lineTo(470, y); ctx.stroke()
      ctx.beginPath(); ctx.arc(343, y, 10, 0, Math.PI * 2); ctx.fill()
      ctx.fillText(label, 484, y + 2)
    })
    ctx.restore()
  },
}

const lineSets = [smapLine, a2Line, a3Line, a4Line]
const dotSets = [smapDots, a2Dots, a3Dots, a4Dots]

export default function App() {
  const canvasRef = useRef<HTMLCanvasElement>(null)

  useEffect(() => {
    if (!canvasRef.current) return
    const datasets: any[] = []
    seriesColors.forEach((color, i) => {
      datasets.push({
        label: legendLabels[i] + " smoothed",
        data: toPoints(lineSets[i]),
        showLine: true,
        borderColor: color,
        borderWidth: 3.5,
        tension: 0.2,
        pointRadius: 0,
        clip: false,
        order: 20 - i * 2,
      })
      datasets.push({
        label: legendLabels[i],
        data: toPoints(dotSets[i]),
        showLine: false,
        backgroundColor: color,
        borderWidth: 0,
        pointRadius: 11,
        clip: false,
        order: 19 - i * 2,
      })
    })

    const chart = new Chart(canvasRef.current, {
      type: "scatter",
      data: { datasets },
      plugins: [framePlugin],
      options: {
        animation: false,
        responsive: false,
        devicePixelRatio: 1,
        layout: { padding: { left: 0, right: 18, top: 0, bottom: 0 } },
        plugins: {
          legend: { display: false },
          tooltip: { enabled: false },
          title: {
            display: true,
            fullSize: false,
            text: "Salinity Observations at the Bering Strait",
            color: "#000",
            font: { family: FONT, size: 56, weight: "normal", lineHeight: 1.2 },
            padding: { top: 6, bottom: 3.8 },
          },
        },
        scales: {
          x: {
            type: "linear",
            min: xMin,
            max: xMax,
            grid: { display: false },
            border: { display: false },
            afterFit(scale: any) { scale.height = 139 },
            afterBuildTicks(scale: any) { scale.ticks = monthTicks.map((value) => ({ value })) },
            ticks: {
              color: "#000",
              padding: 18,
              maxRotation: 0,
              autoSkip: false,
              font: { family: FONT, size: 42 },
              callback: (_v: any, i: number) => monthLabels[i],
            },
            title: {
              display: true,
              text: "Time (June 1, 2015 to June 30, 2016)",
              color: "#000",
              font: { family: FONT, size: 45 },
              padding: { top: 0, bottom: 10 },
            },
          },
          y: {
            type: "linear",
            min: yMin,
            max: yMax,
            grid: { display: false },
            border: { display: false },
            afterFit(scale: any) { scale.width = 153 },
            afterBuildTicks(scale: any) { scale.ticks = yMajorTicks.map((value) => ({ value })) },
            ticks: {
              color: "#000",
              padding: 8,
              font: { family: FONT, size: 44 },
              callback: (v: any) => String(v),
            },
            title: {
              display: true,
              text: "psu",
              color: "#000",
              font: { family: FONT, size: 44 },
              padding: { top: 8, bottom: 0 },
            },
          },
        },
      },
    } as any)

    return () => chart.destroy()
  }, [])

  return (
    <div style={{ position: "absolute", left: 0, top: 0, width: 2691, height: 2077, background: "#fff" }}>
      <canvas ref={canvasRef} width={2691} height={2077} style={{ display: "block" }} />
    </div>
  )
}
